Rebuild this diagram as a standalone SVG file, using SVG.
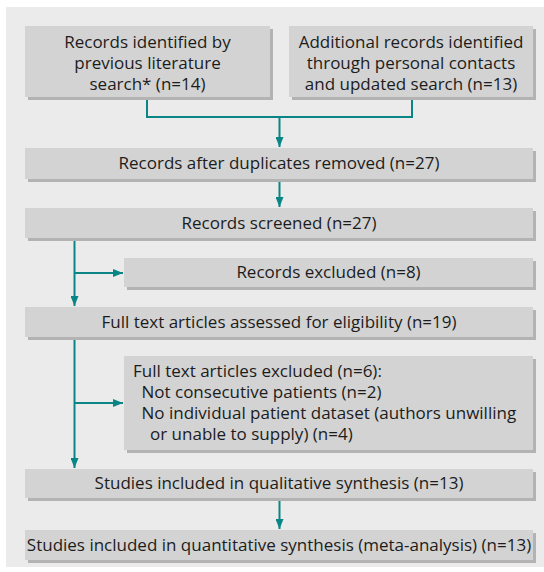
<svg xmlns="http://www.w3.org/2000/svg" width="544" height="572" viewBox="0 0 544 572">
<defs>
<style>
.panel{fill:#ebebeb}
.shadow{fill:#b3b3b3}
.box{fill:#d3d3d3}
.t{font-family:"Open Sans","Noto Sans","Liberation Sans",sans-serif;font-size:17px;fill:#1c1c1c;text-anchor:middle}
.tl{font-family:"Open Sans","Noto Sans","Liberation Sans",sans-serif;font-size:17px;fill:#1c1c1c}
.c{fill:none;stroke:#0a8585;stroke-width:2}
</style>
<marker id="ah" markerUnits="userSpaceOnUse" markerWidth="10" markerHeight="8" refX="10" refY="4" orient="auto">
<path d="M0,0 L10,4 L0,8 z" fill="#0a8585"/>
</marker>
</defs>
<rect class="panel" x="6" y="7" width="538" height="560"/>
<g id="connectors">
<path class="c" d="M147,98 V117 H412 V98"/>
<path class="c" d="M279.5,117 V147" marker-end="url(#ah)"/>
<path class="c" d="M279.5,180 V207" marker-end="url(#ah)"/>
<path class="c" d="M74.5,239 V306" marker-end="url(#ah)"/>
<path class="c" d="M74.5,273 H123" marker-end="url(#ah)"/>
<path class="c" d="M74.5,338 V468" marker-end="url(#ah)"/>
<path class="c" d="M74.5,403 H123" marker-end="url(#ah)"/>
<path class="c" d="M279.5,499 V529" marker-end="url(#ah)"/>
</g>
<g id="n1">
<rect class="shadow" x="28" y="29" width="245" height="71"/>
<rect class="box" x="25" y="26" width="245" height="71"/>
<text class="t" x="147.5" y="48">Records identified by</text>
<text class="t" x="147.5" y="69">previous literature</text>
<text class="t" x="147.5" y="90">search* (n=14)</text>
</g>
<g id="n2">
<rect class="shadow" x="292" y="29" width="244" height="71"/>
<rect class="box" x="289" y="26" width="244" height="71"/>
<text class="t" x="411" y="48">Additional records identified</text>
<text class="t" x="411" y="69">through personal contacts</text>
<text class="t" x="411" y="90">and updated search (n=13)</text>
</g>
<g id="n3">
<rect class="shadow" x="28" y="151" width="508" height="31"/>
<rect class="box" x="25" y="148" width="508" height="31"/>
<text class="t" x="279" y="169">Records after duplicates removed (n=27)</text>
</g>
<g id="n4">
<rect class="shadow" x="28" y="211" width="508" height="30"/>
<rect class="box" x="25" y="208" width="508" height="30"/>
<text class="t" x="279" y="228.5">Records screened (n=27)</text>
</g>
<g id="n5">
<rect class="shadow" x="127" y="261" width="409" height="29"/>
<rect class="box" x="124" y="258" width="409" height="29"/>
<text class="t" x="328.5" y="278">Records excluded (n=8)</text>
</g>
<g id="n6">
<rect class="shadow" x="28" y="310" width="508" height="30"/>
<rect class="box" x="25" y="307" width="508" height="30"/>
<text class="t" x="279" y="327.5">Full text articles assessed for eligibility (n=19)</text>
</g>
<g id="n7">
<rect class="shadow" x="127" y="359" width="409" height="94"/>
<rect class="box" x="124" y="356" width="409" height="94"/>
<text class="tl" x="133" y="377">Full text articles excluded (n=6):</text>
<text class="tl" x="141.5" y="398">Not consecutive patients (n=2)</text>
<text class="tl" x="141.5" y="419">No individual patient dataset (authors unwilling</text>
<text class="tl" x="150" y="440">or unable to supply) (n=4)</text>
</g>
<g id="n8">
<rect class="shadow" x="28" y="472" width="508" height="29"/>
<rect class="box" x="25" y="469" width="508" height="29"/>
<text class="t" x="279" y="489">Studies included in qualitative synthesis (n=13)</text>
</g>
<g id="n9">
<rect class="shadow" x="28" y="533" width="508" height="30"/>
<rect class="box" x="25" y="530" width="508" height="30"/>
<text class="t" x="279" y="550.5">Studies included in quantitative synthesis (meta-analysis) (n=13)</text>
</g>
</svg>
